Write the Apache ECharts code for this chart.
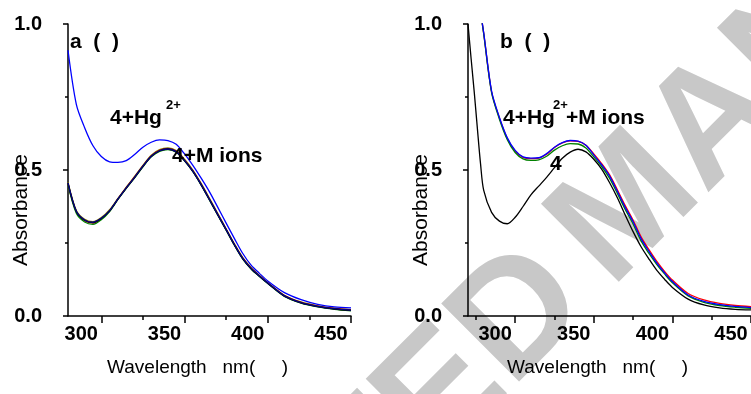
<!DOCTYPE html>
<html>
<head>
<meta charset="utf-8">
<script src="https://cdn.jsdelivr.net/npm/echarts@6/dist/echarts.min.js"></script>
<style>
html, body { margin: 0; padding: 0; background: #fff; }
#main { width: 751px; height: 394px; }
</style>
</head>
<body>
<div id="main"></div>
<script>
const FONT = "'Liberation Sans', Arial, sans-serif";

// panel (a): 4 + Hg2+ and 4 + M ions
const wlA = [280, 285, 290, 295, 300, 305, 310, 315, 320, 325, 330, 335, 340, 345, 350, 355, 360, 365, 370, 375, 380, 385, 390, 395, 400, 410, 420, 430, 440, 450];
const hgA = [0.910, 0.725, 0.645, 0.583, 0.546, 0.528, 0.526, 0.532, 0.553, 0.578, 0.595, 0.603, 0.601, 0.588, 0.555, 0.516, 0.472, 0.425, 0.372, 0.318, 0.265, 0.214, 0.174, 0.146, 0.120, 0.080, 0.056, 0.040, 0.031, 0.028];
const mOlive = [0.458, 0.361, 0.331, 0.323, 0.337, 0.364, 0.403, 0.441, 0.478, 0.516, 0.551, 0.570, 0.576, 0.567, 0.537, 0.500, 0.454, 0.403, 0.351, 0.299, 0.247, 0.200, 0.166, 0.139, 0.115, 0.071, 0.048, 0.035, 0.027, 0.022];
const mRed = [0.452, 0.356, 0.326, 0.318, 0.333, 0.360, 0.401, 0.440, 0.476, 0.514, 0.548, 0.567, 0.573, 0.564, 0.534, 0.497, 0.451, 0.400, 0.348, 0.297, 0.245, 0.198, 0.164, 0.138, 0.114, 0.070, 0.047, 0.034, 0.026, 0.021];
const mGreen = [0.450, 0.352, 0.322, 0.314, 0.330, 0.358, 0.399, 0.437, 0.473, 0.511, 0.545, 0.564, 0.570, 0.561, 0.531, 0.494, 0.448, 0.397, 0.345, 0.294, 0.242, 0.195, 0.161, 0.135, 0.111, 0.067, 0.044, 0.031, 0.023, 0.018];
const mBlack = [0.455, 0.358, 0.328, 0.320, 0.334, 0.360, 0.400, 0.438, 0.474, 0.512, 0.546, 0.566, 0.572, 0.562, 0.532, 0.495, 0.449, 0.398, 0.346, 0.295, 0.243, 0.196, 0.162, 0.136, 0.112, 0.068, 0.045, 0.032, 0.024, 0.019];
const mNavy = [0.456, 0.359, 0.329, 0.321, 0.335, 0.361, 0.401, 0.439, 0.475, 0.513, 0.547, 0.566, 0.572, 0.563, 0.533, 0.496, 0.450, 0.399, 0.347, 0.296, 0.244, 0.197, 0.163, 0.137, 0.113, 0.069, 0.046, 0.033, 0.025, 0.020];

// panel (b): 4 alone and 4 + Hg2+ + M ions
const wlB = [270, 272, 274, 276, 278, 280, 285, 290, 295, 300, 305, 310, 315, 320, 325, 330, 335, 340, 345, 350, 355, 360, 365, 370, 375, 380, 385, 390, 395, 400, 410, 420, 430, 440, 450];
const compB = [1.000, 0.880, 0.765, 0.640, 0.520, 0.430, 0.355, 0.325, 0.316, 0.338, 0.375, 0.415, 0.445, 0.475, 0.508, 0.540, 0.561, 0.571, 0.562, 0.537, 0.503, 0.457, 0.405, 0.346, 0.289, 0.238, 0.196, 0.157, 0.126, 0.098, 0.058, 0.038, 0.028, 0.023, 0.021];
const redB = [null, null, null, null, 1.040, 0.968, 0.768, 0.678, 0.608, 0.565, 0.543, 0.539, 0.541, 0.554, 0.577, 0.593, 0.600, 0.598, 0.585, 0.555, 0.522, 0.484, 0.432, 0.378, 0.328, 0.272, 0.228, 0.188, 0.153, 0.123, 0.077, 0.055, 0.043, 0.036, 0.032];
const greenB = [null, null, null, null, 1.040, 0.965, 0.765, 0.674, 0.604, 0.560, 0.538, 0.533, 0.535, 0.547, 0.568, 0.583, 0.590, 0.589, 0.575, 0.545, 0.512, 0.472, 0.420, 0.365, 0.315, 0.258, 0.215, 0.177, 0.144, 0.114, 0.069, 0.047, 0.036, 0.030, 0.026];
const blueB = [null, null, null, null, 1.040, 0.970, 0.770, 0.680, 0.610, 0.567, 0.545, 0.541, 0.542, 0.556, 0.578, 0.594, 0.601, 0.599, 0.585, 0.552, 0.518, 0.480, 0.427, 0.372, 0.323, 0.266, 0.222, 0.182, 0.148, 0.118, 0.072, 0.050, 0.039, 0.033, 0.029];

const xMajor = [300, 350, 400, 450];
const xMinorA = [325, 375, 425];
const xMinorB = [275, 325, 375, 425];

const chart = echarts.init(document.getElementById("main"));

function pairs(wl, vals) {
  return wl.map((w, i) => [w, vals[i]]);
}

function mainX(grid, min) {
  return {
    gridIndex: grid, type: "value", min: min, max: 450, position: "bottom",
    axisLine: { show: true, onZero: false, lineStyle: { color: "#000", width: 1.5 } },
    axisTick: { show: true, customValues: xMajor, length: 7, lineStyle: { color: "#000", width: 1.5 } },
    axisLabel: { customValues: xMajor, color: "#000", fontSize: 20, fontWeight: "bold", fontFamily: FONT, margin: 8, padding: [0, 40, 0, 0] },
    splitLine: { show: false },
    name: "Wavelength   nm(     )",
    nameLocation: "middle",
    nameGap: 42,
    nameMoveOverlap: false,
    nameTextStyle: { color: "#000", fontSize: 19, fontFamily: FONT, padding: [0, 24, 0, 0] },
  };
}

function minorX(grid, min, vals) {
  return {
    gridIndex: grid, type: "value", min: min, max: 450, position: "bottom",
    axisLine: { show: false, onZero: false },
    axisTick: { show: true, customValues: vals, length: 4, lineStyle: { color: "#000", width: 1.5 } },
    axisLabel: { show: false },
    splitLine: { show: false },
  };
}

function yAx(grid) {
  return {
    gridIndex: grid, type: "value", min: 0, max: 1, interval: 0.5,
    axisLine: { show: true, lineStyle: { color: "#000", width: 1.5 } },
    axisTick: { show: true, length: 5, lineStyle: { color: "#000", width: 1.5 } },
    minorTick: { show: true, splitNumber: 2, length: 3, lineStyle: { color: "#000", width: 1.5 } },
    minorSplitLine: { show: false },
    splitLine: { show: false },
    axisLabel: { color: "#000", fontSize: 20, fontWeight: "bold", fontFamily: FONT, margin: 26, formatter: (v) => v.toFixed(1) },
    name: "Absorbance",
    nameLocation: "middle",
    nameRotate: 90,
    nameGap: 36,
    nameMoveOverlap: false,
    nameTextStyle: { color: "#000", fontSize: 21, fontFamily: FONT, padding: [0, 80, 0, 0] },
  };
}

function line(name, x, y, data, color) {
  return {
    name: name, type: "line", xAxisIndex: x, yAxisIndex: y, data: data,
    showSymbol: false, smooth: 0.3, connectNulls: false,
    lineStyle: { color: color, width: 1.3 },
    itemStyle: { color: color },
  };
}

function txt(s, x, y, size) {
  return {
    type: "text", x: x, y: y, z: 50,
    style: { text: s, fill: "#000", font: "bold " + size + "px " + FONT, verticalAlign: "middle" },
  };
}

const ang = 45 * Math.PI / 180;

let option = {
  animation: false,
  backgroundColor: "#fff",
  grid: [
    { left: 68, top: 24, width: 283, height: 292 },
    { left: 468, top: 24, width: 283, height: 292 },
  ],
  xAxis: [mainX(0, 280), minorX(0, 280, xMinorA), mainX(1, 270), minorX(1, 270, xMinorB)],
  yAxis: [yAx(0), yAx(1)],
  graphic: [
    // watermark
    {
      type: "text", x: 562, y: 276, rotation: ang, z: -10, silent: true,
      style: { text: "ACCEPTED", fill: "#c8c8c8", font: "bold 160px " + FONT, align: "right", verticalAlign: "middle" },
    },
    {
      type: "text", x: 580, y: 258, rotation: ang, z: -10, silent: true,
      style: { text: "MANUSCRIPT", fill: "#c8c8c8", font: "bold 160px " + FONT, align: "left", verticalAlign: "middle" },
    },
    txt("a  (  )", 70, 42, 21),
    txt("4+Hg", 110, 118, 21),
    txt("2+", 166, 105, 13),
    txt("4+M ions", 172, 156, 21),
    txt("b  (  )", 500, 42, 21),
    txt("4+Hg", 503, 118, 21),
    txt("2+", 553, 105, 13),
    txt("+M ions", 566, 118, 21),
    txt("4", 550, 164, 21),
  ],
  series: [
    line("olive", 0, 0, pairs(wlA, mOlive), "#8b7d00"),
    line("red", 0, 0, pairs(wlA, mRed), "#c00000"),
    line("green", 0, 0, pairs(wlA, mGreen), "#008000"),
    line("black", 0, 0, pairs(wlA, mBlack), "#000000"),
    line("navy", 0, 0, pairs(wlA, mNavy), "#000080"),
    line("4+Hg", 0, 0, pairs(wlA, hgA), "#0000ff"),
    line("red b", 2, 1, pairs(wlB, redB), "#ff0000"),
    line("green b", 2, 1, pairs(wlB, greenB), "#008000"),
    line("blue b", 2, 1, pairs(wlB, blueB), "#0000ff"),
    line("4", 2, 1, pairs(wlB, compB), "#000000"),
  ],
};

chart.setOption(option);
</script>
</body>
</html>
